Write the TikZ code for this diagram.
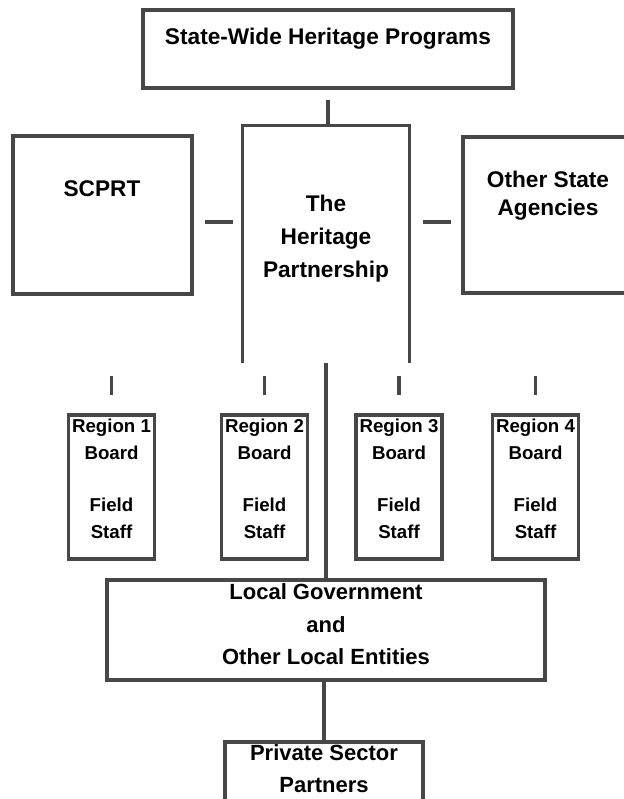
\documentclass[tikz,border=0pt]{standalone}
\usepackage{fontspec}
\setmainfont{Liberation Sans}
\colorlet{linegray}{black!72}
\tikzset{
	frame/.style={draw=linegray, line width=2.4pt, minimum width=#1},
	link/.style={draw=linegray, line width=2.4pt},
	bigtext/.style={font=\fontsize{17pt}{24.5pt}\selectfont\bfseries, align=center, inner sep=0pt},
	regtext/.style={font=\fontsize{14pt}{20.25pt}\selectfont\bfseries, align=center, inner sep=0pt}
}
\begin{document}
\begin{tikzpicture}[x=0.75pt, y=-0.75pt]
			\useasboundingbox (0,0) rectangle (624,799);
			
			%state-wide box
			\node (swp) at (328, 49) [frame=277.5pt, minimum height=58.5pt]{};
			\node (swptext) at (328, 39) [bigtext]{State-Wide Heritage Programs};
			
			%partnership, open at the bottom
			\node (hp) at (326, 244.5) [minimum width=124.5pt, minimum height=177.75pt, inner sep=0pt]{};
			\draw[link] (hp.south west) -- (hp.north west) -- (hp.north east) -- (hp.south east);
			\node (hptext) at (326, 239) [bigtext, font=\fontsize{17pt}{24.75pt}\selectfont\bfseries]{The\\Heritage\\Partnership};
			
			\node (scprt) at (102.5, 215) [frame=134.25pt, minimum height=118.5pt]{};
			\node (scprttext) at (102, 189) [bigtext]{SCPRT};
			\node (os) at (548, 215) [frame=127.5pt, minimum height=117pt]{};
			\node (ostext) at (548, 196) [bigtext, font=\fontsize{17pt}{21pt}\selectfont\bfseries]{Other State\\Agencies};
			
			%links at the top
			\draw[link, shorten <=7.5pt] (swp.south) -- (swp.south |- hp.north);
			\coordinate (dashy) at (0, 222);
			\draw[link, shorten <=8.25pt, shorten >=7.5pt] (scprt.east |- dashy) -- (hp.west |- dashy);
			\draw[link, shorten <=10.5pt, shorten >=7.5pt] (hp.east |- dashy) -- (os.west |- dashy);
			
			%region boards
			\foreach \i/\x in {1/111.5, 2/264.5, 3/399, 4/535.5}{
				\node (r\i) at (\x, 487) [frame=64.5pt, minimum height=108pt]{};
				\node (r\i text) at (\x, 478.5) [regtext]{Region \i\\Board\\[18.75pt]Field\\Staff};
				\draw[link] (r\i.north) ++(0,-37) -- ++(0,19);
			}
			
			%local level
			\node (lg) at (326, 630) [frame=328.5pt, minimum height=75pt]{};
			\node (lgtext) at (326, 624.5) [bigtext, font=\fontsize{16.5pt}{24.4pt}\selectfont\bfseries]{Local Government\\and\\Other Local Entities};
			\node (pp) at (324, 778.5) [frame=148.5pt, minimum height=54.75pt]{};
			\node (pptext) at (324, 769) [bigtext, font=\fontsize{16.5pt}{24pt}\selectfont\bfseries]{Private Sector\\Partners};
			
			\draw[link] (hp.south) -- (lg.north);
			\draw[link] (pp.north |- lg.south) -- (pp.north);
		\end{tikzpicture}
\end{document}
